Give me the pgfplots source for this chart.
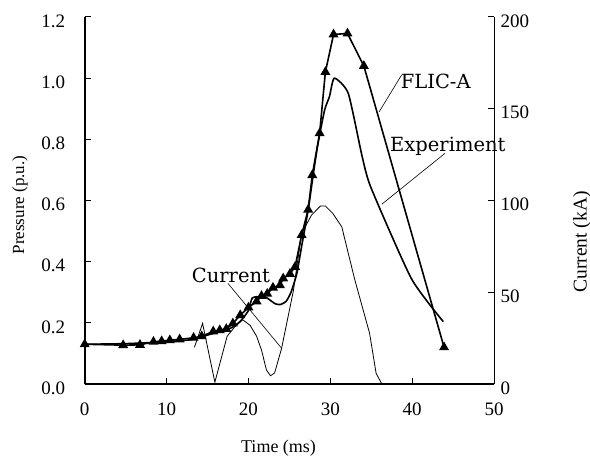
\documentclass[border=0pt]{standalone}
\usepackage{fontspec}
\setmainfont{Liberation Serif}
\newfontfamily\lbl{DejaVu Serif}
\usepackage{pgfplots}
\pgfplotsset{compat=1.18}
\begin{document}
\begin{tikzpicture}
\pgfplotsset{
  base/.style={
    width=409.3bp, height=367bp, scale only axis,
    xmin=0, xmax=50,
    tick align=inside,
    major tick length=6.5bp,
    every tick/.style={black, line width=1bp},
    /pgf/number format/assume math mode=true,
    tick label style={font=\fontsize{19bp}{22bp}\selectfont},
  }
}
\begin{axis}[base, name=ax,
  ymin=0, ymax=1.2,
  axis x line*=bottom, axis y line*=left,
  axis line style={line width=1.6bp, black},
  xtick={0,10,20,30,40,50},
  ytick={0,0.2,0.4,0.6,0.8,1.0,1.2},
  yticklabel style={/pgf/number format/fixed, /pgf/number format/fixed zerofill, /pgf/number format/precision=1, xshift=-16bp, yshift=-4bp},
  xticklabel style={yshift=-15bp},
  clip=false,
]
% FLIC-A
\addplot[black, line width=1.6bp, mark=triangle*, mark size=4.2bp] coordinates {
(0,0.13) (4.7,0.127) (6.75,0.128) (8.4,0.138) (9.4,0.14) (10.4,0.143)
(11.6,0.146) (13.3,0.151) (14.3,0.156) (15.7,0.172) (16.5,0.176) (17.3,0.18)
(18.1,0.198) (19.0,0.225) (20.0,0.25) (21.0,0.27) (21.6,0.288) (22.3,0.295)
(23.0,0.315) (23.85,0.323) (24.25,0.345) (25.07,0.36) (25.7,0.383)
(26.5,0.487) (27.3,0.57) (27.8,0.683) (28.7,0.82) (29.4,1.02)
(30.4,1.143) (32.1,1.146) (34.1,1.04) (43.9,0.12)
};
% Experiment
\addplot[black, line width=1.6bp, smooth, tension=0.35] coordinates {
(0,0.13) (5,0.132) (10,0.138) (13,0.145) (15,0.16) (17,0.175) (18,0.185)
(19,0.205) (20,0.24) (20.5,0.282) (22,0.285) (22.6,0.275) (23.3,0.262)
(23.9,0.26) (24.6,0.27) (25.2,0.3) (25.9,0.36) (26.5,0.45) (27.3,0.57)
(28,0.70) (28.5,0.786) (29.3,0.895) (29.9,0.94) (30.5,1.0)
(32.2,0.95) (33.9,0.743) (35,0.64) (39.9,0.345) (43.8,0.204)
};
% labels and pointers
\draw[black, line width=0.6bp] (axis cs:38.7,1.01) -- (axis cs:35.97,0.89);
\node[anchor=west, inner sep=0pt, font=\fontsize{19.5bp}{23bp}\lbl] at (axis cs:38.6,0.988) {FLIC-A};
\draw[black, line width=0.6bp] (axis cs:44.0,0.754) -- (axis cs:36.3,0.588);
\node[anchor=west, inner sep=0pt, font=\fontsize{19.5bp}{23bp}\lbl] at (axis cs:37.3,0.776) {Experiment};
\draw[black, line width=0.6bp] (axis cs:17.5,0.329) -- (axis cs:24.05,0.117);
\node[anchor=west, inner sep=0pt, font=\fontsize{19.5bp}{23bp}\lbl] at (axis cs:13.07,0.356) {Current};
\end{axis}
\begin{axis}[base,
  ymin=0, ymax=200,
  axis x line=none, axis y line*=right,
  axis line style={line width=0.8bp, black},
  ytick={0,50,100,150,200},
  yticklabel style={xshift=3bp, yshift=-4bp},
]
% Current (kA)
\addplot[black, line width=0.8bp] coordinates {
(13.4,20) (14.4,33) (15.9,1) (17.4,26) (18.3,31) (19.3,35) (20.2,32)
(21.0,26) (21.6,18.5) (22.2,7.6) (22.7,4.5) (23.2,6) (24.05,19.4)
(25.5,51) (26.5,82) (27.7,92) (28.8,97) (29.4,97) (30.3,93) (31.4,85.7)
(33.0,56.7) (34.8,27.7) (35.6,5.8) (36.3,0)
};
\end{axis}
\node[rotate=90, font=\fontsize{17bp}{20bp}\selectfont] at ([xshift=-64.7bp, yshift=-4.5bp]ax.west) {Pressure (p.u.)};
\node[rotate=90, font=\fontsize{19.5bp}{22bp}\selectfont] at ([xshift=88bp, yshift=-41.5bp]ax.east) {Current (kA)};
\node[font=\fontsize{18bp}{21bp}\selectfont] at ([xshift=-10.8bp, yshift=-63.7bp]ax.south) {Time (ms)};
\pgfresetboundingbox
\path[use as bounding box] ([xshift=-84.7bp, yshift=-74bp]ax.south west) rectangle ([xshift=96bp, yshift=17bp]ax.north east);
\end{tikzpicture}
\end{document}
